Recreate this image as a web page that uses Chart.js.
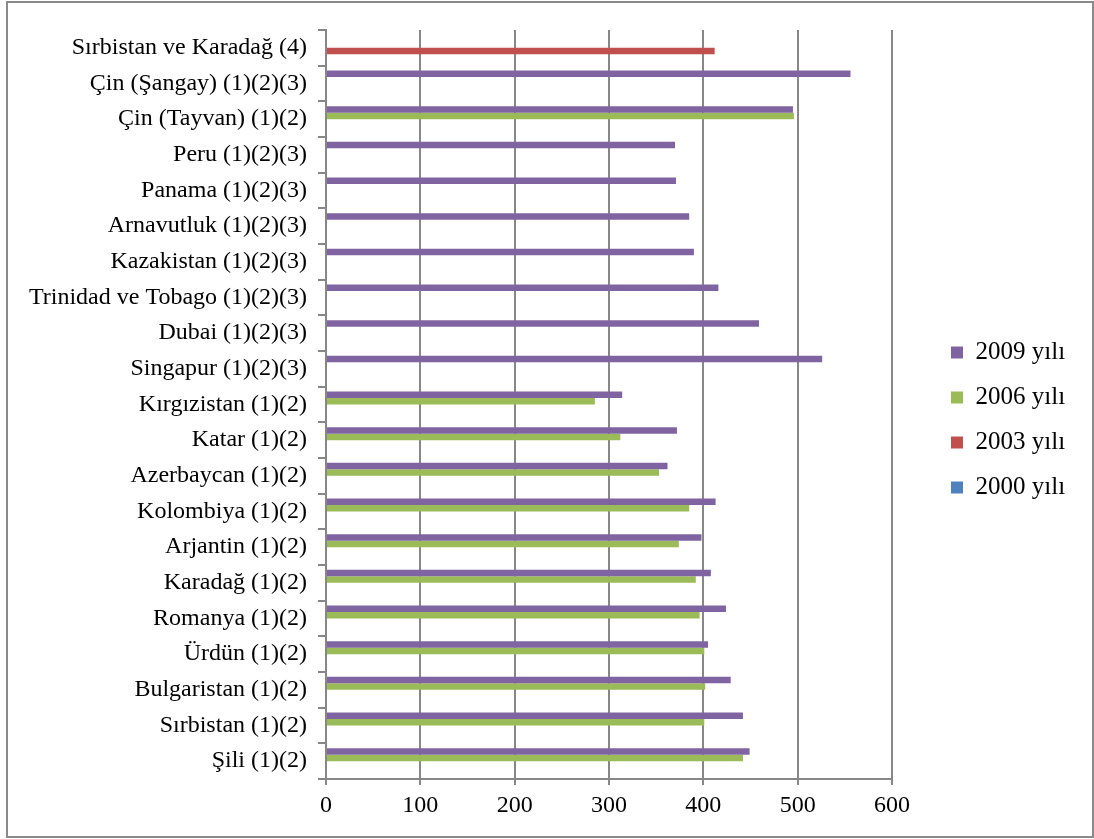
<!DOCTYPE html>
<html>
<head>
<meta charset="utf-8">
<title>PISA okuma puanları</title>
<script src="https://cdn.jsdelivr.net/npm/chart.js@4.4.1/dist/chart.umd.min.js"></script>
<style>
  html, body { margin: 0; padding: 0; background: #ffffff; }
  canvas { display: block; }
</style>
</head>
<body>
<canvas id="chart" width="1094" height="839"></canvas>
<script>
// Countries, listed top to bottom as they appear on the axis
const countries = [
  'Sırbistan ve Karadağ (4)',
  'Çin (Şangay) (1)(2)(3)',
  'Çin (Tayvan) (1)(2)',
  'Peru (1)(2)(3)',
  'Panama (1)(2)(3)',
  'Arnavutluk (1)(2)(3)',
  'Kazakistan (1)(2)(3)',
  'Trinidad ve Tobago (1)(2)(3)',
  'Dubai (1)(2)(3)',
  'Singapur (1)(2)(3)',
  'Kırgızistan (1)(2)',
  'Katar (1)(2)',
  'Azerbaycan (1)(2)',
  'Kolombiya (1)(2)',
  'Arjantin (1)(2)',
  'Karadağ (1)(2)',
  'Romanya (1)(2)',
  'Ürdün (1)(2)',
  'Bulgaristan (1)(2)',
  'Sırbistan (1)(2)',
  'Şili (1)(2)'
];

// Reading scores per survey year (null = no score)
const scores2009 = [null, 556, 495, 370, 371, 385, 390, 416, 459, 526, 314, 372, 362, 413, 398, 408, 424, 405, 429, 442, 449];
const scores2006 = [null, null, 496, null, null, null, null, null, null, null, 285, 312, 353, 385, 374, 392, 396, 401, 402, 401, 442];
const scores2003 = [412, null, null, null, null, null, null, null, null, null, null, null, null, null, null, null, null, null, null, null, null];
const scores2000 = [null, null, null, null, null, null, null, null, null, null, null, null, null, null, null, null, null, null, null, null, null];

const seriesNames = ['2009 yılı', '2006 yılı', '2003 yılı', '2000 yılı'];
const seriesColors = ['#8064A2', '#9BBB59', '#C0504D', '#4F81BD'];
const xMin = 0;
const xMax = 600;
const xStep = 100;

const FONT = "'Liberation Serif', 'Times New Roman', serif";
const GRID = '#878787';

// White page background and the grey frame around the whole chart
const framePlugin = {
  id: 'frame',
  beforeDraw(chart) {
    const ctx = chart.ctx;
    ctx.save();
    ctx.fillStyle = '#ffffff';
    ctx.fillRect(0, 0, chart.width, chart.height);
    ctx.restore();
  },
  afterDraw(chart) {
    const ctx = chart.ctx;
    ctx.save();
    ctx.strokeStyle = '#8a8a8a';
    ctx.lineWidth = 2;
    ctx.strokeRect(7, 2, chart.width - 8, chart.height - 4);
    ctx.restore();
  }
};

// Legend sits in a fixed-width column right of the plot, items indented
const LEGEND_WIDTH = 202;
const LEGEND_INDENT = 39;
const legendColumnPlugin = {
  id: 'legendColumn',
  beforeLayout(chart) {
    const lg = chart.legend;
    if (lg && !lg._fixedWidth) {
      const fit = lg.fit;
      lg.fit = function () {
        fit.call(this);
        this.width = LEGEND_WIDTH;
      };
      lg._fixedWidth = true;
    }
  },
  afterLayout(chart) {
    const lg = chart.legend;
    if (lg) {
      lg.left += LEGEND_INDENT;
    }
  }
};

const datasets = [scores2009, scores2006, scores2003, scores2000].map((values, i) => ({
  label: seriesNames[i],
  data: values,
  backgroundColor: seriesColors[i],
  borderWidth: 0,
  categoryPercentage: 0.727,
  barPercentage: 1.0
}));

new Chart(document.getElementById('chart'), {
  type: 'bar',
  data: { labels: countries, datasets },
  plugins: [framePlugin, legendColumnPlugin],
  options: {
    indexAxis: 'y',
    responsive: false,
    animation: false,
    devicePixelRatio: 1,
    events: [],
    layout: { padding: { top: 1, right: 0, bottom: 0, left: 0 } },
    scales: {
      x: {
        min: xMin,
        max: xMax,
        ticks: {
          stepSize: xStep,
          color: '#000000',
          font: { family: FONT, size: 24 },
          padding: 6,
          maxRotation: 0
        },
        grid: { color: GRID, lineWidth: 2, tickLength: 6, tickColor: GRID },
        border: { color: GRID, width: 2 },
        afterFit(scale) {
          scale.height = 60;
          scale.paddingLeft = 0;
          scale.paddingRight = 0;
        }
      },
      y: {
        ticks: {
          color: '#000000',
          font: { family: FONT, size: 24 },
          padding: 11,
          autoSkip: false
        },
        grid: { drawOnChartArea: false, color: GRID, lineWidth: 2, tickLength: 8 },
        border: { color: GRID, width: 2 },
        afterFit(scale) {
          scale.width = 326;
          scale.paddingTop = 30;
          scale.paddingBottom = 0;
        }
      }
    },
    plugins: {
      tooltip: { enabled: false },
      title: { display: false },
      legend: {
        position: 'right',
        align: 'center',
        labels: {
          color: '#000000',
          font: { family: FONT, size: 25 },
          boxWidth: 12,
          boxHeight: 12,
          padding: 20
        }
      }
    }
  }
});
</script>
</body>
</html>
